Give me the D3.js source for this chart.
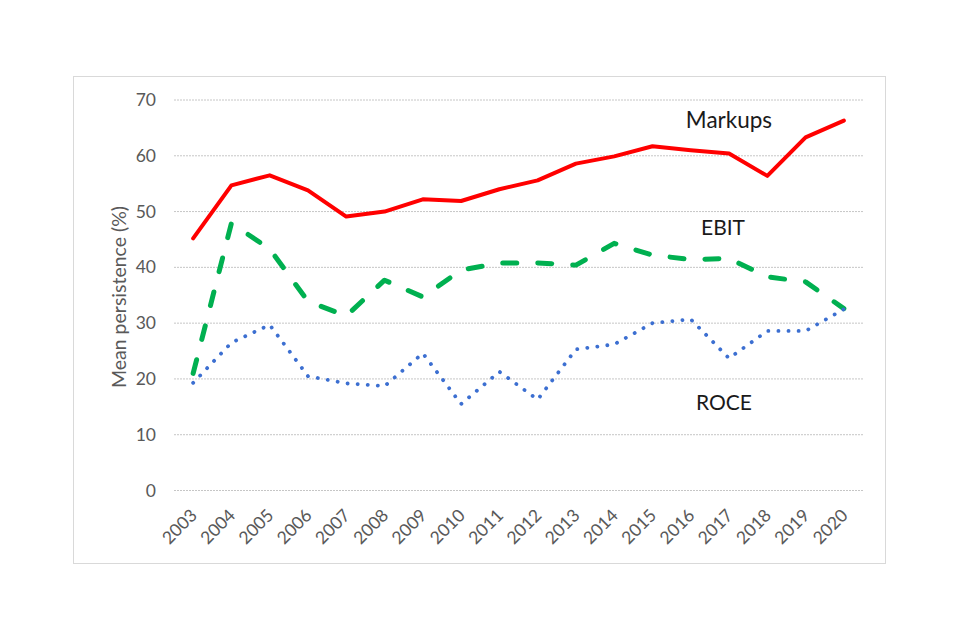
<!DOCTYPE html>
<html>
<head>
<meta charset="utf-8">
<script src="https://cdn.jsdelivr.net/npm/d3@7"></script>
<style>
  html, body { margin: 0; padding: 0; background: #fff; }
  svg { display: block; }
</style>
</head>
<body>
<svg id="chart" width="960" height="640"></svg>
<script>
const years = ["2003","2004","2005","2006","2007","2008","2009","2010","2011","2012","2013","2014","2015","2016","2017","2018","2019","2020"];
const markups = [45.2, 54.7, 56.5, 53.8, 49.1, 50.0, 52.2, 51.9, 54.0, 55.6, 58.6, 59.9, 61.7, 61.0, 60.4, 56.4, 63.3, 66.3];
const ebit    = [21.0, 47.9, 43.3, 33.9, 31.3, 37.7, 34.7, 39.5, 40.8, 40.8, 40.4, 44.3, 42.2, 41.4, 41.6, 38.3, 37.4, 32.6];
const roce    = [19.3, 26.5, 29.7, 20.5, 19.2, 18.7, 24.6, 15.5, 21.3, 16.3, 25.3, 26.2, 30.0, 30.7, 23.7, 28.6, 28.6, 32.5];
const yTicks  = [0, 10, 20, 30, 40, 50, 60, 70];
const seriesNames = ["Markups", "EBIT", "ROCE"];

const svg = d3.select("#chart");
const font = "Lato, 'Open Sans', 'Liberation Sans', sans-serif";

// outer chart border
svg.append("rect")
  .attr("x", 73.5).attr("y", 76.5)
  .attr("width", 812).attr("height", 487)
  .attr("fill", "#fff").attr("stroke", "#d9d9d9").attr("stroke-width", 1);

const x = d3.scaleBand().domain(years).range([174, 863]);
const y = d3.scaleLinear().domain([0, 70]).range([490.5, 100]);
const cx = d => x(d) + x.bandwidth() / 2;

// gridlines
svg.append("g").selectAll("line").data(yTicks).join("line")
  .attr("x1", 174).attr("x2", 863)
  .attr("y1", d => y(d)).attr("y2", d => y(d))
  .attr("stroke", "#c6c6c6").attr("stroke-width", 1)
  .attr("stroke-dasharray", "2,1");

// y axis
const yAxis = svg.append("g").attr("transform", "translate(174,0)")
  .call(d3.axisLeft(y).tickValues(yTicks).tickSize(0).tickPadding(18));
yAxis.select(".domain").remove();
yAxis.selectAll("text").attr("font-family", font).attr("font-size", 17.5).attr("fill", "#595959");

// x axis
const xAxis = svg.append("g").attr("transform", "translate(0,490.5)")
  .call(d3.axisBottom(x).tickSize(0).tickFormat(d => d));
xAxis.select(".domain").remove();
xAxis.selectAll("text")
  .attr("font-family", font).attr("font-size", 17.5).attr("fill", "#595959")
  .attr("text-anchor", "end")
  .attr("dy", 0).attr("y", 0)
  .attr("transform", "translate(5,26) rotate(-45)");

// y title
svg.append("text")
  .attr("transform", "translate(126,297) rotate(-90)")
  .attr("text-anchor", "middle")
  .attr("font-family", font).attr("font-size", 19.5).attr("fill", "#595959")
  .text("Mean persistence (%)");

const line = d3.line().x((d, i) => cx(years[i])).y(d => y(d)).curve(d3.curveLinear);

svg.append("path").datum(ebit)
  .attr("d", line).attr("fill", "none")
  .attr("stroke", "#00B050").attr("stroke-width", 5)
  .attr("stroke-linecap", "round").attr("stroke-linejoin", "round")
  .attr("stroke-dasharray", "14,21");

svg.append("path").datum(roce)
  .attr("d", line).attr("fill", "none")
  .attr("stroke", "#3C6FD1").attr("stroke-width", 3.8)
  .attr("stroke-linecap", "round").attr("stroke-linejoin", "round")
  .attr("stroke-dasharray", "0.1,10");

svg.append("path").datum(markups)
  .attr("d", line).attr("fill", "none")
  .attr("stroke", "#FF0000").attr("stroke-width", 4)
  .attr("stroke-linecap", "round").attr("stroke-linejoin", "round");

// series labels
const labelPos = [[729, 128], [723, 235], [724, 410]];
const labelSize = [22.5, 21, 21];
svg.append("g").selectAll("text").data(seriesNames).join("text")
  .attr("x", (d, i) => labelPos[i][0]).attr("y", (d, i) => labelPos[i][1])
  .attr("text-anchor", "middle")
  .attr("font-family", font).attr("font-size", (d, i) => labelSize[i]).attr("fill", "#1a1a1a")
  .text(d => d);
</script>
</body>
</html>
